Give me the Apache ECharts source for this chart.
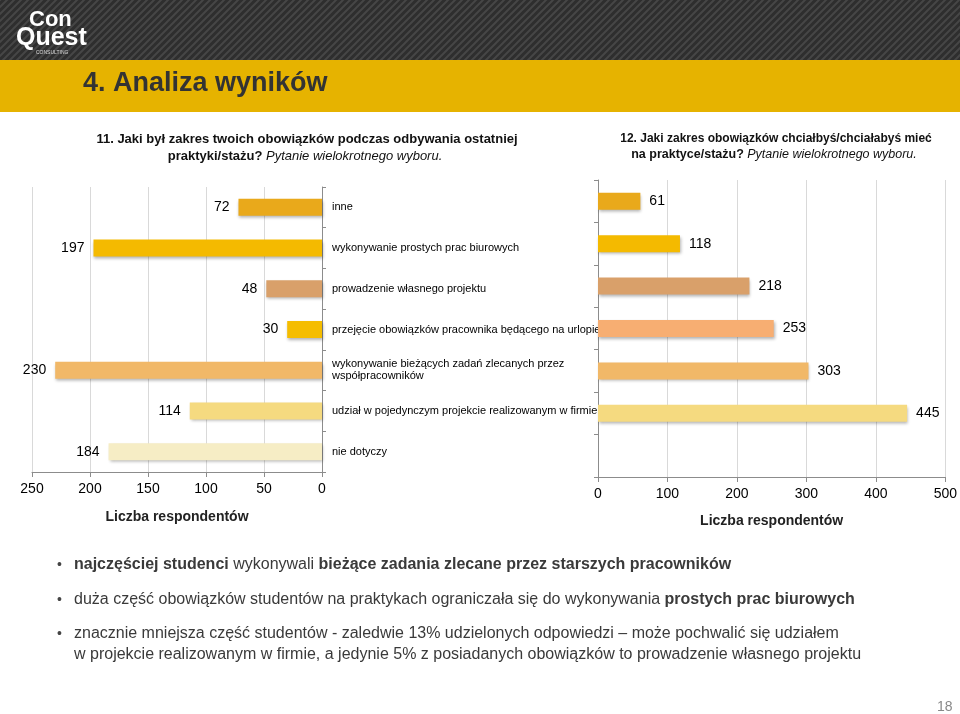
<!DOCTYPE html>
<html>
<head>
<meta charset="utf-8">
<script src="https://cdn.jsdelivr.net/npm/echarts@6/dist/echarts.min.js"></script>
<style>
html,body{margin:0;padding:0;background:#fff;}
#chart{width:960px;height:714px;}
</style>
</head>
<body>
<div id="chart"></div>
<script>
const categories = [
  'inne',
  'wykonywanie prostych prac biurowych',
  'prowadzenie własnego projektu',
  'przejęcie obowiązków pracownika będącego na urlopie',
  'wykonywanie bieżących zadań zlecanych przez\nwspółpracowników',
  'udział w pojedynczym projekcie realizowanym w firmie',
  'nie dotyczy'
];
const valuesQ11 = [72, 197, 48, 30, 230, 114, 184];
const valuesQ12 = [61, 118, 218, 253, 303, 445, null];
const colorsQ11 = ['#E9A91B', '#F4BA00', '#D9A06A', '#F5BD00', '#F1B868', '#F5DA80', '#F6EDC5'];
const colorsQ12 = ['#E9A91B', '#F4BA00', '#D9A06A', '#F7AE72', '#F1B868', '#F5DA80', '#F6EDC5'];
const axisNameText = 'Liczba respondentów';
const titleText = '4. Analiza wyników';
const q11Line1 = '11. Jaki był zakres twoich obowiązków podczas odbywania ostatniej';
const q11Line2a = 'praktyki/stażu? ';
const q12Line1 = '12. Jaki zakres obowiązków chciałbyś/chciałabyś mieć';
const q12Line2a = 'na praktyce/stażu? ';
const questionTail = 'Pytanie wielokrotnego wyboru.';

const FONT = 'Liberation Sans, Arial, sans-serif';

// stripe pattern for header
const pc = document.createElement('canvas');
pc.width = 7; pc.height = 7;
const px = pc.getContext('2d');
px.fillStyle = '#2e2e2e'; px.fillRect(0,0,7,7);
px.strokeStyle = '#464646'; px.lineWidth = 2;
px.beginPath(); px.moveTo(-1,8); px.lineTo(8,-1); px.stroke();
px.beginPath(); px.moveTo(-1,1); px.lineTo(1,-1); px.stroke();
px.beginPath(); px.moveTo(6,8); px.lineTo(8,6); px.stroke();

const chart = echarts.init(document.getElementById('chart'), null, {renderer:'canvas'});

const barShadow = {shadowBlur:3, shadowColor:'rgba(0,0,0,0.3)', shadowOffsetX:1, shadowOffsetY:2};
const TXT = '#3a3a3a';

const option = {
  animation:false,
  backgroundColor:'#ffffff',
  textStyle:{fontFamily:FONT},
  grid:[
    {left:32, width:290, top:187, height:285},
    {left:598, width:349, top:180, height:297}
  ],
  xAxis:[
    {gridIndex:0, type:'value', inverse:true, min:0, max:250, interval:50,
     axisLine:{show:true, lineStyle:{color:'#8c8c8c'}},
     axisTick:{show:true, length:5, lineStyle:{color:'#8c8c8c'}},
     axisLabel:{fontSize:14, color:'#000', margin:10, fontFamily:FONT},
     splitLine:{show:true, lineStyle:{color:'#d9d9d9'}},
     name:axisNameText, nameLocation:'middle', nameGap:38,
     nameTextStyle:{fontSize:14, fontWeight:'bold', color:'#222', fontFamily:FONT}},
    {gridIndex:1, type:'value', min:0, max:500, interval:100,
     axisLine:{show:true, lineStyle:{color:'#8c8c8c'}},
     axisTick:{show:true, length:5, lineStyle:{color:'#8c8c8c'}},
     axisLabel:{fontSize:14, color:'#000', margin:10, fontFamily:FONT},
     splitLine:{show:true, lineStyle:{color:'#d9d9d9'}},
     name:axisNameText, nameLocation:'middle', nameGap:37,
     nameTextStyle:{fontSize:14, fontWeight:'bold', color:'#222', fontFamily:FONT}}
  ],
  yAxis:[
    {gridIndex:0, type:'category', data:categories, inverse:true, position:'right',
     axisLine:{show:true, lineStyle:{color:'#8c8c8c'}},
     axisTick:{show:true, length:4, lineStyle:{color:'#8c8c8c'}},
     axisLabel:{align:'left', margin:10, fontSize:11, color:'#000', lineHeight:12, fontFamily:FONT}},
    {gridIndex:1, type:'category', data:categories, inverse:true, position:'left',
     axisLine:{show:true, lineStyle:{color:'#8c8c8c'}},
     axisTick:{show:true, length:4, lineStyle:{color:'#8c8c8c'}},
     axisLabel:{show:false}}
  ],
  series:[
    {type:'bar', xAxisIndex:0, yAxisIndex:0, barWidth:17,
     data:valuesQ11.map((v,i)=>({value:v, itemStyle:Object.assign({color:colorsQ11[i]}, barShadow)})),
     label:{show:true, position:'left', distance:9, fontSize:14, color:'#000', fontFamily:FONT}},
    {type:'bar', xAxisIndex:1, yAxisIndex:1, barWidth:17,
     data:valuesQ12.map((v,i)=>({value:v==null?'-':v, itemStyle:Object.assign({color:colorsQ12[i]}, barShadow)})),
     label:{show:true, position:'right', distance:9, fontSize:14, color:'#000', fontFamily:FONT}}
  ],
  graphic:[
    {type:'rect', left:0, top:0, z:-1, shape:{width:960, height:60}, style:{fill:{image:pc, repeat:'repeat'}}},
    {type:'rect', left:0, top:60, z:-1, shape:{width:960, height:52}, style:{fill:'#E6B300'}},
    {type:'text', x:29, y:9, style:{text:'Con', fill:'#fff', font:'bold 22px '+FONT}},
    {type:'text', x:16, y:26, style:{text:'Quest', fill:'#fff', font:'bold 25px '+FONT}},
    {type:'text', x:36, y:50, style:{text:'CONSULTING', fill:'#ddd', font:'5px '+FONT}},
    {type:'text', x:83, y:84, style:{text:titleText, fill:'#333333', font:'bold 27px '+FONT, verticalAlign:'middle'}},
    {type:'text', x:307, y:139, style:{text:q11Line1, fill:'#111', font:'bold 13px '+FONT, align:'center', verticalAlign:'middle'}},
    {type:'text', x:305, y:156, style:{text:'{b|'+q11Line2a+'}{i|'+questionTail+'}', align:'center', verticalAlign:'middle',
      rich:{b:{font:'bold 13px '+FONT, fill:'#111'}, i:{font:'italic 13px '+FONT, fill:'#111'}}}},
    {type:'text', x:776, y:139, style:{text:q12Line1, fill:'#111', font:'bold 12px '+FONT, align:'center', verticalAlign:'middle'}},
    {type:'text', x:774, y:155, style:{text:'{b|'+q12Line2a+'}{i|'+questionTail+'}', align:'center', verticalAlign:'middle',
      rich:{b:{font:'bold 12.5px '+FONT, fill:'#111'}, i:{font:'italic 12.5px '+FONT, fill:'#111'}}}},
    // bullets
    {type:'text', x:57, y:565, style:{text:'•', fill:'#444', font:'14px '+FONT, verticalAlign:'middle'}},
    {type:'text', x:57, y:600, style:{text:'•', fill:'#444', font:'14px '+FONT, verticalAlign:'middle'}},
    {type:'text', x:57, y:634, style:{text:'•', fill:'#444', font:'14px '+FONT, verticalAlign:'middle'}},
    {type:'text', x:74, y:565, style:{text:'{b|najczęściej studenci }{r|wykonywali }{b|bieżące zadania zlecane przez starszych pracowników}', verticalAlign:'middle',
      rich:{b:{font:'bold 16px '+FONT, fill:TXT}, r:{font:'16px '+FONT, fill:TXT}}}},
    {type:'text', x:74, y:600, style:{text:'{r|duża część obowiązków studentów na praktykach ograniczała się do wykonywania }{b|prostych prac biurowych}', verticalAlign:'middle',
      rich:{b:{font:'bold 16px '+FONT, fill:TXT}, r:{font:'16px '+FONT, fill:TXT}}}},
    {type:'text', x:74, y:634, style:{text:'znacznie mniejsza część studentów - zaledwie 13% udzielonych odpowiedzi – może pochwalić się udziałem', fill:TXT, font:'16px '+FONT, verticalAlign:'middle'}},
    {type:'text', x:74, y:655, style:{text:'w projekcie realizowanym w firmie, a jedynie 5% z posiadanych obowiązków to prowadzenie własnego projektu', fill:TXT, font:'16px '+FONT, verticalAlign:'middle'}},
    {type:'text', x:937, y:707, style:{text:'18', fill:'#888', font:'14px '+FONT, verticalAlign:'middle'}}
  ]
};
chart.setOption(option);
</script>
</body>
</html>
